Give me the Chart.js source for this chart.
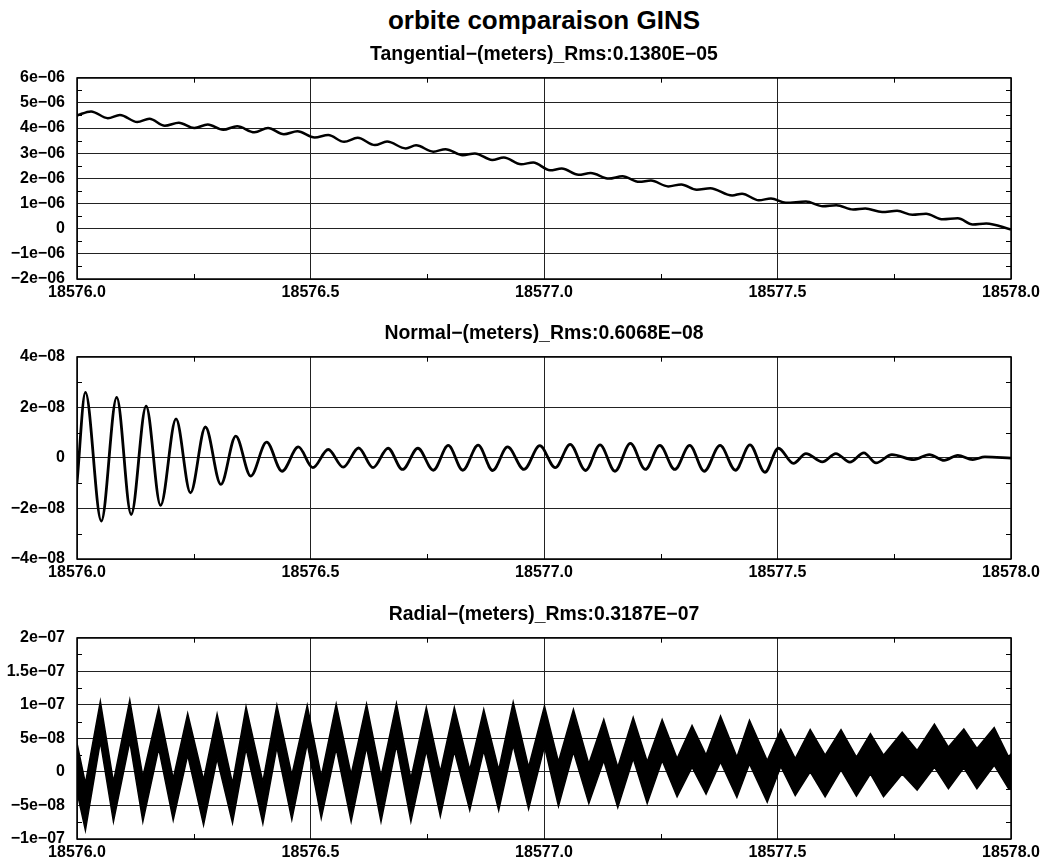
<!DOCTYPE html>
<html>
<head>
<meta charset="utf-8">
<title>orbite comparaison GINS</title>
<script src="https://cdn.jsdelivr.net/npm/chart.js@4/dist/chart.umd.min.js"></script>
<style>
  html, body { margin: 0; padding: 0; background: #fff; overflow: hidden; }
  body { width: 1048px; height: 865px; position: relative; }
  .panel { position: absolute; left: 0; }
  #title {
    position: absolute; left: 77px; width: 934px; top: 5px;
    text-align: center; color: #000;
    font: bold 26px 'Liberation Sans', Arial, sans-serif; line-height: 30px;
  }
</style>
</head>
<body>
<div id="title">orbite comparaison GINS</div>
<canvas id="tan" class="panel" width="1048" height="262" style="top:43px"></canvas>
<canvas id="norm" class="panel" width="1048" height="263" style="top:322px"></canvas>
<canvas id="rad" class="panel" width="1048" height="262" style="top:603px"></canvas>
<script>
// shared x axis (MJD days)
const xTickValues = [18576.0, 18576.5, 18577.0, 18577.5, 18578.0];
const xTickLabels = ['18576.0', '18576.5', '18577.0', '18577.5', '18578.0'];
const xMinorTicks = [18576.25, 18576.75, 18577.25, 18577.75];

// Tangential difference (m), extrema of each wiggle
const tanX = [18576.000, 18576.030, 18576.066, 18576.092, 18576.129, 18576.155, 18576.188, 18576.218,
  18576.251, 18576.280, 18576.313, 18576.343, 18576.380, 18576.409, 18576.443, 18576.472, 18576.509,
  18576.538, 18576.572, 18576.601, 18576.638, 18576.664, 18576.704, 18576.726, 18576.763, 18576.789,
  18576.826, 18576.852, 18576.889, 18576.914, 18576.951, 18576.977, 18577.013, 18577.038, 18577.074,
  18577.100, 18577.139, 18577.168, 18577.204, 18577.229, 18577.266, 18577.294, 18577.327, 18577.356,
  18577.403, 18577.424, 18577.460, 18577.486, 18577.518, 18577.561, 18577.597, 18577.626, 18577.662,
  18577.688, 18577.724, 18577.756, 18577.789, 18577.818, 18577.854, 18577.886, 18577.918, 18577.947,
  18578.000];
const tanY = [4.50e-6, 4.66e-6, 4.39e-6, 4.52e-6, 4.24e-6, 4.37e-6, 4.09e-6, 4.21e-6, 4.00e-6, 4.14e-6,
  3.93e-6, 4.07e-6, 3.83e-6, 4.00e-6, 3.75e-6, 3.87e-6, 3.62e-6, 3.72e-6, 3.45e-6, 3.61e-6, 3.32e-6,
  3.46e-6, 3.19e-6, 3.31e-6, 3.06e-6, 3.16e-6, 2.92e-6, 2.99e-6, 2.73e-6, 2.83e-6, 2.56e-6, 2.63e-6,
  2.32e-6, 2.39e-6, 2.14e-6, 2.21e-6, 1.99e-6, 2.08e-6, 1.86e-6, 1.91e-6, 1.68e-6, 1.76e-6, 1.55e-6,
  1.61e-6, 1.32e-6, 1.39e-6, 1.13e-6, 1.20e-6, 1.03e-6, 1.08e-6, 0.89e-6, 0.93e-6, 0.76e-6, 0.80e-6,
  0.66e-6, 0.71e-6, 0.55e-6, 0.59e-6, 0.37e-6, 0.41e-6, 0.17e-6, 0.21e-6, -0.03e-6];
const tanTickValues = [-2e-6, -1e-6, 0, 1e-6, 2e-6, 3e-6, 4e-6, 5e-6, 6e-6];
const tanTickLabels = ['\u22122e\u221206', '\u22121e\u221206', '0', '1e\u221206', '2e\u221206',
  '3e\u221206', '4e\u221206', '5e\u221206', '6e\u221206'];

// Normal difference (m)
const normX = [18576.000, 18576.018, 18576.052, 18576.085, 18576.116, 18576.148, 18576.179, 18576.212,
  18576.243, 18576.275, 18576.308, 18576.340, 18576.372, 18576.406, 18576.439, 18576.474, 18576.505,
  18576.538, 18576.570, 18576.603, 18576.634, 18576.666, 18576.697, 18576.730, 18576.763, 18576.795,
  18576.826, 18576.859, 18576.890, 18576.922, 18576.957, 18576.991, 18577.024, 18577.056, 18577.089,
  18577.120, 18577.152, 18577.185, 18577.217, 18577.248, 18577.280, 18577.312, 18577.343, 18577.377,
  18577.410, 18577.441, 18577.473, 18577.502, 18577.534, 18577.561, 18577.596, 18577.625, 18577.655,
  18577.685, 18577.711, 18577.745, 18577.792, 18577.825, 18577.857, 18577.886, 18577.918, 18577.944,
  18578.000];
const normY = [-0.99e-8, 2.59e-8, -2.50e-8, 2.39e-8, -2.24e-8, 2.04e-8, -1.88e-8, 1.54e-8, -1.38e-8,
  1.22e-8, -1.05e-8, 0.86e-8, -0.72e-8, 0.62e-8, -0.53e-8, 0.43e-8, -0.39e-8, 0.33e-8, -0.37e-8,
  0.39e-8, -0.39e-8, 0.38e-8, -0.46e-8, 0.38e-8, -0.49e-8, 0.49e-8, -0.49e-8, 0.50e-8, -0.50e-8,
  0.43e-8, -0.46e-8, 0.48e-8, -0.39e-8, 0.53e-8, -0.50e-8, 0.51e-8, -0.53e-8, 0.57e-8, -0.46e-8,
  0.49e-8, -0.46e-8, 0.49e-8, -0.53e-8, 0.49e-8, -0.49e-8, 0.51e-8, -0.57e-8, 0.38e-8, -0.22e-8,
  0.17e-8, -0.16e-8, 0.17e-8, -0.17e-8, 0.20e-8, -0.20e-8, 0.13e-8, -0.07e-8, 0.13e-8, -0.10e-8,
  0.10e-8, -0.07e-8, 0.04e-8, -0.01e-8];
const normTickValues = [-4e-8, -2e-8, 0, 2e-8, 4e-8];
const normTickLabels = ['\u22124e\u221208', '\u22122e\u221208', '0', '2e\u221208', '4e\u221208'];

// Radial difference (m): upper and lower edge of the noisy band
const radX = [18576.000, 18576.018, 18576.050, 18576.078, 18576.113, 18576.141, 18576.175, 18576.206,
  18576.237, 18576.271, 18576.300, 18576.333, 18576.362, 18576.398, 18576.428, 18576.460, 18576.493,
  18576.523, 18576.555, 18576.587, 18576.620, 18576.651, 18576.684, 18576.715, 18576.748, 18576.778,
  18576.808, 18576.841, 18576.871, 18576.903, 18576.934, 18576.967, 18577.001, 18577.031, 18577.063,
  18577.096, 18577.128, 18577.158, 18577.191, 18577.221, 18577.253, 18577.285, 18577.317, 18577.347,
  18577.378, 18577.413, 18577.440, 18577.478, 18577.507, 18577.538, 18577.570, 18577.602, 18577.636,
  18577.669, 18577.699, 18577.727, 18577.767, 18577.799, 18577.836, 18577.866, 18577.899, 18577.927,
  18577.964, 18577.995, 18578.000];
const radTop = [4.3e-8, -1.7e-8, 10.5e-8, -1.5e-8, 10.7e-8, -0.7e-8, 9.6e-8, -1.0e-8, 8.7e-8, -1.2e-8,
  8.6e-8, -1.7e-8, 9.7e-8, -1.5e-8, 9.9e-8, -0.5e-8, 9.9e-8, -0.7e-8, 10.1e-8, -0.4e-8, 10.1e-8,
  -0.7e-8, 10.2e-8, -1.0e-8, 9.6e-8, 0.0, 9.6e-8, 0.3e-8, 9.3e-8, 0.3e-8, 10.4e-8, 0.7e-8, 9.8e-8,
  1.5e-8, 9.3e-8, 1.2e-8, 7.8e-8, 0.7e-8, 8.1e-8, 1.5e-8, 7.8e-8, 2.0e-8, 6.9e-8, 2.5e-8, 8.3e-8,
  2.2e-8, 7.7e-8, 1.7e-8, 6.3e-8, 2.0e-8, 6.3e-8, 2.5e-8, 6.3e-8, 2.2e-8, 5.7e-8, 2.5e-8, 5.9e-8,
  3.2e-8, 7.1e-8, 3.7e-8, 6.4e-8, 3.5e-8, 6.6e-8, 2.2e-8, 2.7e-8];
const radBottom = [-3.0e-8, -8.7e-8, 4.5e-8, -7.4e-8, 4.5e-8, -7.4e-8, 3.5e-8, -7.2e-8, 2.5e-8, -7.9e-8,
  2.0e-8, -7.6e-8, 3.5e-8, -7.7e-8, 3.7e-8, -7.1e-8, 4.2e-8, -6.9e-8, 3.5e-8, -7.4e-8, 3.7e-8,
  -7.4e-8, 4.0e-8, -7.4e-8, 3.2e-8, -6.6e-8, 3.1e-8, -5.7e-8, 3.2e-8, -5.7e-8, 4.0e-8, -5.5e-8,
  3.8e-8, -5.1e-8, 3.0e-8, -4.7e-8, 1.7e-8, -5.3e-8, 2.0e-8, -4.7e-8, 1.7e-8, -3.7e-8, 0.7e-8,
  -3.3e-8, 1.5e-8, -3.8e-8, 1.2e-8, -4.5e-8, 0.8e-8, -3.5e-8, 0.0, -3.7e-8, 0.3e-8, -3.6e-8,
  -0.3e-8, -3.7e-8, -0.3e-8, -2.7e-8, 0.7e-8, -2.5e-8, 0.6e-8, -2.5e-8, 1.0e-8, -2.5e-8, -2.5e-8];
const radTickValues = [-1e-7, -5e-8, 0, 5e-8, 1e-7, 1.5e-7, 2e-7];
const radTickLabels = ['\u22121e\u221207', '\u22125e\u221208', '0', '5e\u221208', '1e\u221207',
  '1.5e\u221207', '2e\u221207'];

const FONT = "'Liberation Sans', Arial, Helvetica, sans-serif";
const toPoints = (xs, ys) => xs.map((x, i) => ({ x, y: ys[i] }));
const midpoints = vals => vals.slice(1).map((v, i) => (v + vals[i]) / 2);

// gnuplot-like frame with inward minor ticks
const framePlugin = {
  id: 'frame',
  afterDatasetsDraw(chart, args, opts) {
    const { ctx, chartArea: a, scales } = chart;
    ctx.save();
    ctx.strokeStyle = '#000';
    ctx.lineWidth = 1;
    ctx.beginPath();
    xMinorTicks.forEach(v => {
      const px = Math.round(scales.x.getPixelForValue(v)) + 0.5;
      ctx.moveTo(px, a.top); ctx.lineTo(px, a.top + 5);
      ctx.moveTo(px, a.bottom); ctx.lineTo(px, a.bottom - 5);
    });
    midpoints(opts.yTicks).forEach(v => {
      const py = Math.round(scales.y.getPixelForValue(v)) + 0.5;
      ctx.moveTo(a.left, py); ctx.lineTo(a.left + 5, py);
      ctx.moveTo(a.right, py); ctx.lineTo(a.right - 5, py);
    });
    ctx.stroke();
    ctx.lineWidth = 1.5;
    ctx.strokeRect(Math.round(a.left), Math.round(a.top), Math.round(a.width), Math.round(a.height));
    ctx.restore();
  }
};

function makePanel(id, title, datasets, yMin, yMax, yTicks, yLabels) {
  return new Chart(document.getElementById(id), {
    type: 'line',
    data: { datasets },
    options: {
      responsive: false,
      animation: false,
      devicePixelRatio: 1,
      layout: { padding: { left: 0, right: 37, top: 0, bottom: 0 } },
      elements: { point: { radius: 0 } },
      plugins: {
        legend: { display: false },
        tooltip: { enabled: false },
        title: {
          display: true, text: title, fullSize: false, color: '#000',
          font: { family: FONT, size: 19.4, weight: 'bold' },
          padding: { top: 0, bottom: 11.4 }
        },
        frame: { yTicks }
      },
      scales: {
        x: {
          type: 'linear', min: 18576, max: 18578,
          afterBuildTicks: s => { s.ticks = xTickValues.map(v => ({ value: v })); },
          afterFit: s => { s.height = 26; },
          ticks: {
            color: '#000', padding: 4, maxRotation: 0, autoSkip: false,
            font: { family: FONT, size: 16, weight: 'bold' },
            callback: (v, i) => xTickLabels[i]
          },
          grid: { color: '#222', lineWidth: 1, drawTicks: false },
          border: { display: false }
        },
        y: {
          type: 'linear', min: yMin, max: yMax,
          afterBuildTicks: s => { s.ticks = yTicks.map(v => ({ value: v })); },
          afterFit: s => { s.width = 77; },
          ticks: {
            color: '#000', padding: 12, autoSkip: false,
            font: { family: FONT, size: 16, weight: 'bold' },
            callback: (v, i) => yLabels[i]
          },
          grid: { color: '#222', lineWidth: 1, drawTicks: false },
          border: { display: false }
        }
      }
    },
    plugins: [framePlugin]
  });
}

makePanel('tan', 'Tangential\u2212(meters)_Rms:0.1380E\u221205', [{
  data: toPoints(tanX, tanY), borderColor: '#000', borderWidth: 2.5,
  cubicInterpolationMode: 'monotone', fill: false
}], -2e-6, 6e-6, tanTickValues, tanTickLabels);

makePanel('norm', 'Normal\u2212(meters)_Rms:0.6068E\u221208', [{
  data: toPoints(normX, normY), borderColor: '#000', borderWidth: 2.8,
  cubicInterpolationMode: 'monotone', fill: false
}], -4e-8, 4e-8, normTickValues, normTickLabels);

makePanel('rad', 'Radial\u2212(meters)_Rms:0.3187E\u221207', [
  { data: toPoints(radX, radTop), borderColor: '#000', backgroundColor: '#000',
    borderWidth: 1.5, tension: 0, fill: '+1' },
  { data: toPoints(radX, radBottom), borderColor: '#000', borderWidth: 1.5, tension: 0, fill: false }
], -1e-7, 2e-7, radTickValues, radTickLabels);
</script>
</body>
</html>
